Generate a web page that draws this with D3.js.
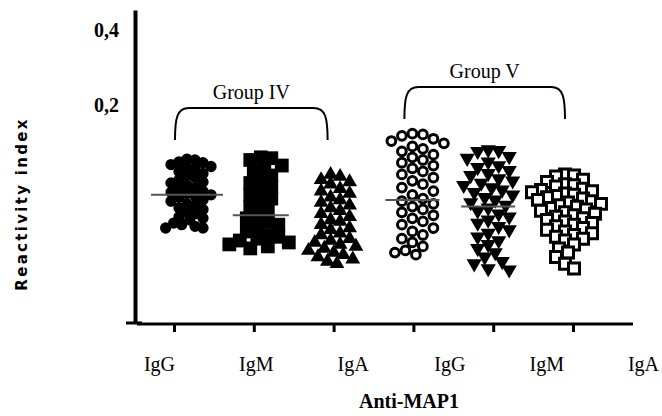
<!DOCTYPE html>
<html>
<meta charset="utf-8">
<script src="https://cdn.jsdelivr.net/npm/d3@7"></script>
<style>
body{
  margin: 0;
  background: white;
}
.serif{
  font-family: "Liberation Serif", "Times New Roman", serif;
  fill: black;
}
</style>
<body>
<div id="chart"></div>
<script>
// columns of the dot plot, in order left to right
var columns = ["IV-IgG", "IV-IgM", "IV-IgA", "V-IgG", "V-IgM", "V-IgA"];
var tickLabels = ["IgG", "IgM", "IgA", "IgG", "IgM", "IgA"];
var yTicks = [0.2, 0.4];

// reactivity index of each serum
var ivIgG = [0.121, 0.120, 0.118, 0.117, 0.115, 0.113, 0.112, 0.110, 0.108, 0.106,
             0.104, 0.102, 0.100, 0.098, 0.097, 0.095, 0.093, 0.092, 0.090, 0.089,
             0.088, 0.087, 0.086, 0.085, 0.083, 0.082, 0.080, 0.079, 0.077, 0.076,
             0.074, 0.073, 0.071, 0.070, 0.069, 0.067, 0.066, 0.065, 0.064, 0.064];
var ivIgM = [0.123, 0.122, 0.120, 0.114, 0.112, 0.108, 0.104, 0.100, 0.097, 0.094,
             0.090, 0.087, 0.084, 0.081, 0.078, 0.075, 0.072, 0.070, 0.068, 0.066,
             0.064, 0.062, 0.060, 0.059, 0.058, 0.057, 0.056, 0.055, 0.054, 0.053];
var ivIgA = [0.105, 0.103, 0.100, 0.098, 0.096, 0.092, 0.090, 0.088, 0.085, 0.083,
             0.081, 0.079, 0.077, 0.075, 0.073, 0.071, 0.069, 0.068, 0.066, 0.064,
             0.063, 0.061, 0.060, 0.058, 0.057, 0.056, 0.055, 0.054, 0.053, 0.052,
             0.051, 0.050, 0.049, 0.048, 0.047, 0.046];
var vIgG = [0.153, 0.152, 0.150, 0.146, 0.143, 0.140, 0.136, 0.133, 0.130, 0.126,
            0.123, 0.120, 0.117, 0.114, 0.111, 0.108, 0.105, 0.102, 0.099, 0.096,
            0.093, 0.090, 0.087, 0.084, 0.082, 0.080, 0.078, 0.076, 0.074, 0.072,
            0.070, 0.068, 0.066, 0.064, 0.062, 0.060, 0.058, 0.056, 0.054, 0.052,
            0.051, 0.050];
var vIgM = [0.132, 0.131, 0.130, 0.124, 0.122, 0.118, 0.114, 0.112, 0.109, 0.106,
            0.104, 0.101, 0.099, 0.097, 0.095, 0.093, 0.091, 0.089, 0.087, 0.085,
            0.083, 0.081, 0.079, 0.077, 0.075, 0.073, 0.071, 0.069, 0.067, 0.065,
            0.063, 0.061, 0.059, 0.057, 0.055, 0.053, 0.051, 0.049, 0.047, 0.046,
            0.044, 0.0435];
var vIgA = [0.105, 0.104, 0.103, 0.100, 0.098, 0.096, 0.095, 0.094, 0.092, 0.091,
            0.090, 0.089, 0.088, 0.087, 0.086, 0.085, 0.084, 0.083, 0.082, 0.081,
            0.080, 0.079, 0.078, 0.077, 0.076, 0.075, 0.074, 0.073, 0.072, 0.071,
            0.070, 0.069, 0.068, 0.067, 0.066, 0.065, 0.064, 0.063, 0.062, 0.061,
            0.060, 0.059, 0.058, 0.057, 0.055, 0.053, 0.051, 0.049, 0.046, 0.044];
// central lines that show in the figure (none visible for the IgA columns)
var means = [0.087, 0.072, null, 0.083, 0.078, null];

var groupNames = ["Group IV", "Group V"];
var groupSpans = [[0, 2], [3, 5]];

var seriesData = [ivIgG, ivIgM, ivIgA, vIgG, vIgM, vIgA];

/////////////////////// layout

var width = 662, height = 416;

var svg = d3.select("#chart").append("svg")
  .attr("width", width).attr("height", height);

var x = d3.scalePoint().domain(columns).range([174, 573]);
var xLabel = d3.scalePoint().domain(d3.range(columns.length)).range([159, 643]);
var y = d3.scaleLog().domain([0.0266, 0.48]).range([323, 10]);

// the dot clouds don't sit exactly over their ticks in the figure
var colShift = [13, 7, -3, -1, -5, -8];
var lineHalf = [36, 28, 28, 27, 27, 28];

// marker style for each column
var markers = [
  {type: d3.symbolCircle,   size: 100, fill: "black", stroke: "none", sw: 0, rot: 0,   dist: 8},
  {type: d3.symbolSquare,   size: 190, fill: "black", stroke: "none", sw: 0, rot: 0,   dist: 10.5},
  {type: d3.symbolTriangle, size: 95,  fill: "black", stroke: "none", sw: 0, rot: 0,   dist: 9.5},
  {type: d3.symbolCircle,   size: 60,  fill: "white", stroke: "black", sw: 3, rot: 0,  dist: 10.5},
  {type: d3.symbolTriangle, size: 100, fill: "black", stroke: "none", sw: 0, rot: 180, dist: 10.5},
  {type: d3.symbolSquare,   size: 120, fill: "white", stroke: "black", sw: 3, rot: 0,  dist: 9}
];

// spreads the dots sideways so they don't sit on top of each other
function swarm(values, dist){
  var placed = [];
  var step = dist / 3;
  values.slice().sort(d3.descending).forEach(function(v){
    var py = y(v);
    for (var k = 0; k < 80; k++){
      var dx = (k % 2 ? 1 : -1) * Math.ceil(k / 2) * step;
      var ok = placed.every(function(p){
        return (p.dx - dx) * (p.dx - dx) + (p.py - py) * (p.py - py) >= dist * dist;
      });
      if (ok){ placed.push({v: v, dx: dx, py: py}); break; }
    }
  });
  return placed;
}

// axes
var yAxis = d3.axisLeft(y)
  .tickValues(yTicks)
  .tickSize(0)
  .tickPadding(16)
  .tickFormat(function(d){ return d3.format(".1f")(d).replace(".", ","); });

var yG = svg.append("g").attr("transform", "translate(135,0)").call(yAxis);
yG.select(".domain").attr("stroke", "black").attr("stroke-width", 4);
yG.selectAll("text")
  .attr("class", "serif")
  .style("font-size", "20px").style("font-weight", "bold");

// little foot at the bottom of the y axis
svg.append("line")
  .attr("x1", 126).attr("x2", 142)
  .attr("y1", y.range()[0]).attr("y2", y.range()[0])
  .attr("stroke", "black").attr("stroke-width", 3);

svg.append("line")
  .attr("x1", 137).attr("x2", 633)
  .attr("y1", 324).attr("y2", 324)
  .attr("stroke", "black").attr("stroke-width", 3);

var xAxis = d3.axisBottom(x).tickSize(8).tickFormat("");
var xG = svg.append("g").attr("transform", "translate(0,324)").call(xAxis);
xG.select(".domain").remove();
xG.selectAll(".tick line").attr("stroke-width", 3);

var labelAxis = d3.axisBottom(xLabel).tickSize(0).tickPadding(33)
  .tickFormat(function(i){ return tickLabels[i]; });
var lG = svg.append("g").attr("transform", "translate(0,324)").call(labelAxis);
lG.select(".domain").remove();
lG.selectAll("text").attr("class", "serif").style("font-size", "20px");

svg.append("text")
  .attr("class", "serif")
  .attr("x", 409).attr("y", 408)
  .attr("text-anchor", "middle")
  .style("font-size", "20px").style("font-weight", "bold")
  .text("Anti-MAP1");

svg.append("text")
  .attr("transform", "translate(27,204) rotate(-90)")
  .attr("text-anchor", "middle")
  .style("font-family", "'DejaVu Sans', sans-serif")
  .style("font-size", "15px").style("font-weight", "bold")
  .style("letter-spacing", "2.3px")
  .text("Reactivity index");

// group brackets
var bracketTop = [108, 87], bracketDepth = 32;
var bracketEnds = [[1, -6], [-9, -8]];
groupNames.forEach(function(name, i){
  var x0 = x(columns[groupSpans[i][0]]) + bracketEnds[i][0];
  var x1 = x(columns[groupSpans[i][1]]) + bracketEnds[i][1];
  var t = bracketTop[i], b = t + bracketDepth;
  var path = d3.path();
  path.moveTo(x0, b);
  path.bezierCurveTo(x0, t + 10, x0 + 2, t, x0 + 14, t);
  path.lineTo(x1 - 14, t);
  path.bezierCurveTo(x1 - 2, t, x1, t + 10, x1, b);
  svg.append("path")
    .attr("d", path.toString())
    .attr("fill", "none").attr("stroke", "black").attr("stroke-width", 2);
  svg.append("text")
    .attr("class", "serif")
    .attr("x", (x0 + x1) / 2).attr("y", t - 9)
    .attr("text-anchor", "middle")
    .style("font-size", "20px")
    .text(name);
});

// dots
seriesData.forEach(function(values, i){
  var m = markers[i];
  var cx = x(columns[i]) + colShift[i];
  var pts = swarm(values, m.dist);
  svg.append("g").selectAll("path")
    .data(pts)
    .enter().append("path")
    .attr("d", d3.symbol().type(m.type).size(m.size))
    .attr("transform", function(d){
      return "translate(" + (cx + d.dx) + "," + d.py + ")" + (m.rot ? " rotate(" + m.rot + ")" : "");
    })
    .attr("fill", m.fill)
    .attr("stroke", m.stroke)
    .attr("stroke-width", m.sw);
});

// central lines
means.forEach(function(v, i){
  if (v == null) return;
  var cx = x(columns[i]) + colShift[i];
  svg.append("line")
    .attr("x1", cx - lineHalf[i]).attr("x2", cx + lineHalf[i])
    .attr("y1", y(v)).attr("y2", y(v))
    .attr("stroke", "#555").attr("stroke-width", 2);
});
</script>
</body>
</html>
